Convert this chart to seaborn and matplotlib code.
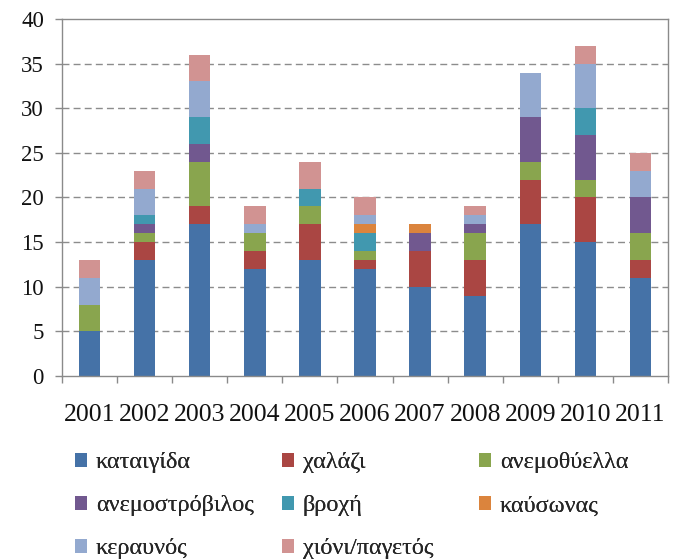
import matplotlib
matplotlib.use("Agg")
import matplotlib.pyplot as plt
from matplotlib.patches import Patch
from matplotlib.ticker import FixedLocator
import numpy as np
import pandas as pd
import seaborn as sns

years = ["2001", "2002", "2003", "2004", "2005", "2006", "2007", "2008", "2009", "2010", "2011"]
categories = ["καταιγίδα", "χαλάζι", "ανεμοθύελλα", "ανεμοστρόβιλος",
              "βροχή", "καύσωνας", "κεραυνός", "χιόνι/παγετός"]

kataigida      = [5, 13, 17, 12, 13, 12, 10, 9, 17, 15, 11]
chalazi        = [0, 2, 2, 2, 4, 1, 4, 4, 5, 5, 2]
anemothyella   = [3, 1, 5, 2, 2, 1, 0, 3, 2, 2, 3]
anemostrovilos = [0, 1, 2, 0, 0, 0, 2, 1, 5, 5, 4]
vrochi         = [0, 1, 3, 0, 2, 2, 0, 0, 0, 3, 0]
kafsonas       = [0, 0, 0, 0, 0, 1, 1, 0, 0, 0, 0]
keravnos       = [3, 3, 4, 1, 0, 1, 0, 1, 5, 5, 3]
chioni         = [2, 2, 3, 2, 3, 2, 0, 1, 0, 2, 2]

series = [kataigida, chalazi, anemothyella, anemostrovilos,
          vrochi, kafsonas, keravnos, chioni]
colors = ["#4572A7", "#AA4643", "#89A54E", "#71588F",
          "#4198AF", "#DB843D", "#93A9CF", "#D19392"]

rows = []
for cat, vals in zip(categories, series):
    for i, v in enumerate(vals):
        rows.append({"pos": i, "cat": cat, "value": v})
df = pd.DataFrame(rows)

sns.set_theme(style="white")
plt.rcParams["font.family"] = ["Liberation Serif", "DejaVu Serif"]

fig = plt.figure(figsize=(6.79, 5.6), dpi=100)
ax = fig.add_axes([0.0913, 0.3286, 0.8925, 0.6375])

# seaborn stacks the last hue level at the bottom, so pass the order reversed
sns.histplot(data=df, x="pos", weights="value", hue="cat",
             hue_order=categories[::-1], palette=colors[::-1],
             multiple="stack", discrete=True, shrink=0.39,
             alpha=1, linewidth=0, edgecolor="none",
             legend=False, ax=ax)

ax.set_xlim(-0.5, len(years) - 0.5)
ax.set_ylim(0, 40)
ax.set_yticks(np.arange(0, 41, 5))
ax.set_xticks(range(len(years)))
ax.set_xticklabels(years)
ax.xaxis.set_minor_locator(FixedLocator(np.arange(-0.5, len(years), 1.0)))
ax.set_xlabel("")
ax.set_ylabel("")

for y in range(5, 40, 5):
    ax.axhline(y, color="#8c8c8c", linestyle=(0, (5, 3)), linewidth=1.0, zorder=0)

for s in ax.spines.values():
    s.set_color("#8a8a8a")
    s.set_linewidth(1.0)

ax.tick_params(axis="x", which="major", length=0, pad=20, labelsize=18.5, colors="#111111")
ax.tick_params(axis="x", which="minor", length=5, width=1, color="#8a8a8a", direction="out", bottom=True)
ax.tick_params(axis="y", length=5, width=1, color="#8a8a8a", direction="out", left=True,
               pad=8, labelsize=16.5, labelcolor="#111111")

# legend laid out in three fixed columns
columns = [[0, 3, 6], [1, 4, 7], [2, 5]]
col_x = [0.110, 0.415, 0.705]
for xpos, idxs in zip(col_x, columns):
    handles = [Patch(facecolor=colors[i], edgecolor="none") for i in idxs]
    labels = [categories[i] for i in idxs]
    leg = fig.legend(handles, labels, loc="upper left",
                     bbox_to_anchor=(xpos, 0.192), frameon=False,
                     fontsize=17.5, handlelength=0.52, handleheight=0.52,
                     handletextpad=0.35, labelspacing=0.90,
                     borderaxespad=0, borderpad=0)
    fig.add_artist(leg)

fig.savefig("out.png", dpi=100)
